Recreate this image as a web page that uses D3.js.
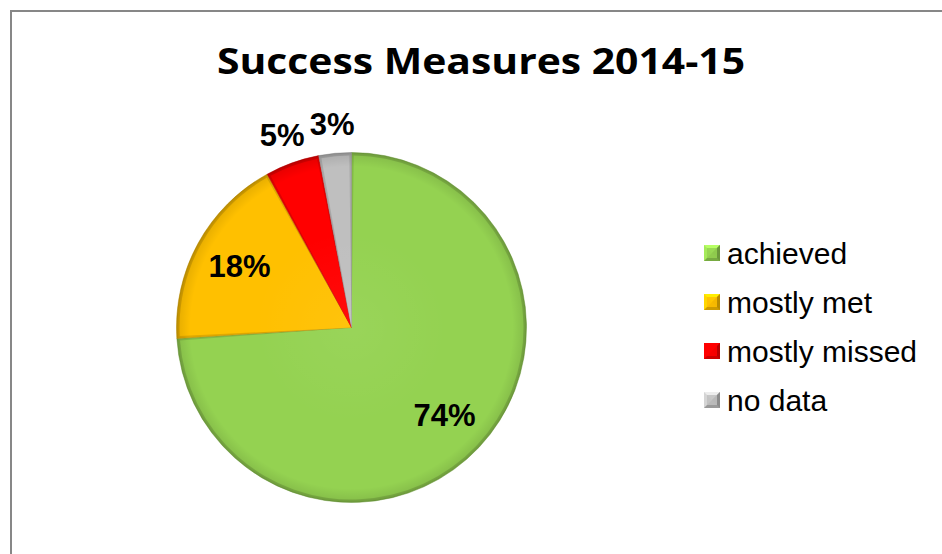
<!DOCTYPE html>
<html><head><meta charset="utf-8">
<script src="https://cdn.jsdelivr.net/npm/d3@7"></script>
<style>body{margin:0;background:#fff}svg{display:block}</style>
</head><body><svg id="c" width="942" height="554"></svg>
<script>
const title = "Success Measures 2014-15";
const categories = ["achieved", "mostly met", "mostly missed", "no data"];
const values = [74, 18, 5, 3];
const colors = ["#94D251", "#FFC000", "#FF0000", "#BFBFBF"];
const labels = ["74%", "18%", "5%", "3%"];

const svg = d3.select("#c");
const W = 942, H = 554;
svg.append("rect").attr("width", W).attr("height", H).attr("fill", "#fff");
// chart border
svg.append("rect").attr("x", 11).attr("y", 11).attr("width", 1000).attr("height", 700)
  .attr("fill", "none").attr("stroke", "#878787").attr("stroke-width", 2);

// title
svg.append("text").attr("x", 481).attr("y", 74).attr("text-anchor", "middle")
  .attr("font-family", "'Open Sans', Lato, sans-serif").attr("font-weight", "bold")
  .attr("font-size", 36.5).attr("textLength", 528).attr("lengthAdjust", "spacingAndGlyphs")
  .attr("fill", "#000").text(title);

const cx = 351.5, cy = 327.5, R = 175;
const pie = d3.pie().sort(null).value(d => d)(values);
const arcFull = d3.arc().innerRadius(0).outerRadius(R);
const arcInner = d3.arc().innerRadius(0).outerRadius(R - 3).padAngle(0.025).padRadius(R);

const defs = svg.append("defs");
const rg = defs.append("radialGradient").attr("id", "rim")
  .attr("gradientUnits", "userSpaceOnUse").attr("cx", 0).attr("cy", 0).attr("r", R);
rg.append("stop").attr("offset", 0).attr("stop-color", "#fff").attr("stop-opacity", 0.05);
rg.append("stop").attr("offset", 0.55).attr("stop-color", "#fff").attr("stop-opacity", 0);
rg.append("stop").attr("offset", 0.92).attr("stop-color", "#000").attr("stop-opacity", 0);
rg.append("stop").attr("offset", 0.98).attr("stop-color", "#000").attr("stop-opacity", 0.08);
rg.append("stop").attr("offset", 1).attr("stop-color", "#000").attr("stop-opacity", 0.18);

const g = svg.append("g").attr("transform", `translate(${cx},${cy})`);
const sl = g.selectAll("g.s").data(pie).join("g").attr("class", "s");
sl.append("path").attr("d", arcFull)
  .attr("fill", (d, i) => d3.color(colors[i]).darker(0.35))
  .attr("stroke", (d, i) => d3.color(colors[i]).darker(0.8)).attr("stroke-width", 0.5);
sl.append("path").attr("d", arcInner).attr("fill", (d, i) => colors[i]);
sl.append("path").attr("d", arcFull).attr("fill", "url(#rim)");

// data labels
const total = d3.sum(values);
const inArc = d3.arc().innerRadius(R * 0.73).outerRadius(R * 0.73);
const outArc = d3.arc().innerRadius(R * 1.17).outerRadius(R * 1.17);
g.selectAll("text.lbl").data(pie).join("text").attr("class", "lbl")
  .attr("transform", d => {
    const c = (d.data / total >= 0.1 ? inArc : outArc).centroid(d);
    return `translate(${c[0]},${c[1]})`;
  })
  .attr("text-anchor", "middle").attr("dy", "0.36em")
  .attr("font-family", "Arial, 'Liberation Sans', sans-serif").attr("font-weight", "bold")
  .attr("font-size", 31).attr("fill", "#000")
  .text((d, i) => labels[i]);

// legend
const ly = d3.scalePoint().domain(categories).range([253, 400]);
const lg = svg.append("g").selectAll("g").data(categories).join("g")
  .attr("transform", d => `translate(704,${ly(d)})`);
const s = 16, h = s / 2;
lg.each(function (d, i) {
  const c = d3.color(colors[i]);
  const gg = d3.select(this);
  gg.append("rect").attr("x", 0).attr("y", -h).attr("width", s).attr("height", s).attr("fill", c.darker(0.6));
  gg.append("path").attr("d", `M0,${-h}L${s},${-h}L0,${h}Z`).attr("fill", c.brighter(0.3));
  gg.append("path").attr("d", `M0,${-h}L${s},${-h}L${h},0Z`).attr("fill", c.brighter(0.6));
  gg.append("path").attr("d", `M${s},${-h}L${s},${h}L${h},0Z`).attr("fill", c.darker(0.9));
  gg.append("rect").attr("x", 3).attr("y", -h + 3).attr("width", s - 6).attr("height", s - 6).attr("fill", c).attr("opacity", 0.85);
  gg.append("text").attr("x", 23).attr("y", 10.5)
    .attr("font-family", "Arial, 'Liberation Sans', sans-serif").attr("font-size", 30)
    .attr("fill", "#000").text(d);
});
</script></body></html>
